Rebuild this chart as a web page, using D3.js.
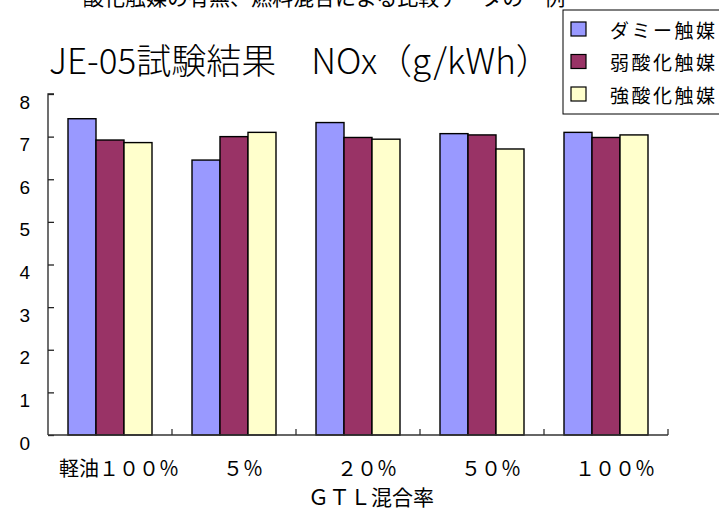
<!DOCTYPE html>
<html>
<head>
<meta charset="utf-8">
<script src="https://cdn.jsdelivr.net/npm/d3@7"></script>
<style>
  html, body { margin: 0; padding: 0; background: #fff; }
  svg { display: block; }
  text { fill: #000; }
</style>
</head>
<body>
<script>
// NOx results per GTL blend ratio, one series per catalyst
const categories = ["軽油１００％", "５％", "２０％", "５０％", "１００％"];
const seriesNames = ["ダミー触媒", "弱酸化触媒", "強酸化触媒"];
const dummyCat  = [7.42, 6.45, 7.33, 7.07, 7.10];
const weakCat   = [6.92, 7.00, 6.98, 7.04, 6.98];
const strongCat = [6.86, 7.10, 6.94, 6.71, 7.04];
const yTicks = [0, 1, 2, 3, 4, 5, 6, 7, 8];
const colors = ["#9999FF", "#993366", "#FFFFCC"];

const seriesValues = [dummyCat, weakCat, strongCat];

const W = 719, H = 513;
const svg = d3.select("body").append("svg").attr("width", W).attr("height", H);

const CJK = "'Noto Sans CJK JP', sans-serif";
const LAT = "'Liberation Sans', 'Noto Sans CJK JP', sans-serif";

// plot area
const x0 = 48, x1 = 668, yBase = 435, yTop = 94;

const x = d3.scaleBand().domain(categories).range([x0, x1]).paddingInner(0).paddingOuter(0);
const xs = d3.scaleBand().domain(seriesNames).range([20, x.bandwidth() - 20]).padding(0);
const y = d3.scaleLinear().domain([0, 8]).range([yBase, yTop]);

// heading running off the top edge
svg.append("text")
  .attr("x", 83).attr("y", 5)
  .attr("font-family", CJK).attr("font-size", 21)
  .text("酸化触媒の有無、燃料混合による比較データの一例");

// title
svg.append("text")
  .attr("x", 49).attr("y", 74)
  .attr("font-family", CJK).attr("font-size", 35)
  .attr("font-weight", 300)
  .text("JE-05試験結果　NOx（g/kWh）");

// bars
const rows = [];
categories.forEach((c, i) => {
  seriesNames.forEach((s, j) => rows.push({ c, s, j, v: seriesValues[j][i] }));
});

svg.append("g").selectAll("rect").data(rows).join("rect")
  .attr("x", d => x(d.c) + xs(d.s))
  .attr("y", d => y(d.v))
  .attr("width", xs.bandwidth())
  .attr("height", d => y(0) - y(d.v))
  .attr("fill", d => colors[d.j])
  .attr("stroke", "#000")
  .attr("stroke-width", 1.4);

// y axis
const yAxis = d3.axisRight(y).tickValues(yTicks).tickSize(6).tickFormat("");
const gy = svg.append("g").attr("transform", `translate(${x0},0)`).call(yAxis);
gy.select(".domain").attr("stroke", "#222").attr("stroke-width", 1.3).attr("d", `M6,${yTop}H0V${yBase}`);
gy.selectAll(".tick line").attr("stroke", "#222").attr("stroke-width", 1.3);

svg.append("g").selectAll("text").data(yTicks).join("text")
  .attr("x", 30).attr("y", d => y(d) + 8)
  .attr("text-anchor", "end")
  .attr("dominant-baseline", "central")
  .attr("font-family", LAT).attr("font-size", 19)
  .text(d => d);

// x axis with category separators
const bounds = categories.map(c => x(c) + x.bandwidth());
const gx = svg.append("g");
gx.append("line")
  .attr("x1", x0).attr("x2", x1).attr("y1", yBase).attr("y2", yBase)
  .attr("stroke", "#333").attr("stroke-width", 1.5);
gx.selectAll("line.sep").data(bounds).join("line").attr("class", "sep")
  .attr("x1", d => d).attr("x2", d => d)
  .attr("y1", yBase).attr("y2", yBase - 6)
  .attr("stroke", "#333").attr("stroke-width", 1.3);

svg.append("g").selectAll("text").data(categories).join("text")
  .attr("x", d => x(d) + x.bandwidth() / 2 + 9)
  .attr("y", 476)
  .attr("text-anchor", "middle")
  .attr("font-family", CJK).attr("font-size", 20)
  .text(d => d);

svg.append("text")
  .attr("x", 371).attr("y", 505)
  .attr("text-anchor", "middle")
  .attr("font-family", CJK).attr("font-size", 21)
  .text("ＧＴＬ混合率");

// legend
const lg = svg.append("g");
lg.append("rect")
  .attr("x", 563).attr("y", 10).attr("width", 170).attr("height", 104)
  .attr("fill", "#fff").attr("stroke", "#000").attr("stroke-width", 1);
const items = lg.selectAll("g.item").data(seriesNames).join("g").attr("class", "item")
  .attr("transform", (d, i) => `translate(0,${29 + i * 32.5})`);
items.append("rect")
  .attr("x", 571).attr("y", -7).attr("width", 15).attr("height", 14)
  .attr("fill", (d, i) => colors[i]).attr("stroke", "#000").attr("stroke-width", 1.2);
items.append("text")
  .attr("x", 610).attr("y", 0)
  .attr("dominant-baseline", "central")
  .attr("font-family", CJK).attr("font-size", 19)
  .attr("letter-spacing", 2.5)
  .text(d => d);
</script>
</body>
</html>
